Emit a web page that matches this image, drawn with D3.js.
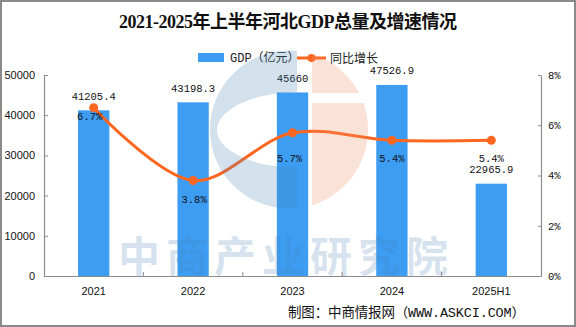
<!DOCTYPE html>
<html><head><meta charset="utf-8">
<script src="https://cdn.jsdelivr.net/npm/d3@7"></script>
<style>body{margin:0;background:#fff}svg{display:block}</style>
</head><body>
<script>
const categories = ["2021","2022","2023","2024","2025H1"];
const gdpValues = [41205.4, 43198.3, 45660, 47526.9, 22965.9];
const growthValues = [6.7, 3.8, 5.7, 5.4, 5.4];
const gdpLabels = ["41205.4","43198.3","45660","47526.9","22965.9"];
const growthLabels = ["6.7%","3.8%","5.7%","5.4%","5.4%"];
const leftTicks = [0, 10000, 20000, 30000, 40000, 50000];
const rightTicks = [0, 2, 4, 6, 8];
const titleText = "2021-2025年上半年河北GDP总量及增速情况";
const legendBar = "GDP（亿元）";
const legendLine = "同比增长";
const sourceText = "制图：中商情报网（WWW.ASKCI.COM）";
const watermarkText = "中商产业研究院";

const W = 576, H = 327;
const BLUE = "#3d9df2", ORANGE = "#ff6620", AXIS = "#8c8c8c";
const CJK = "'Noto Sans CJK SC', 'Noto Sans', sans-serif";
const MONO = "'Liberation Mono', 'DejaVu Sans Mono', monospace";

const svg = d3.select("body").append("svg").attr("width", W).attr("height", H);
svg.append("rect").attr("width", W).attr("height", H).attr("fill", "#fff");

const x = d3.scaleBand().domain(categories).range([44, 541]);
const yL = d3.scaleLinear().domain([0, 50000]).range([276, 75]);
const yR = d3.scaleLinear().domain([0, 8]).range([276, 75]);

// title
svg.append("text").attr("x", 119).attr("y", 28)
  .attr("font-family", "'Liberation Serif', " + CJK).attr("font-weight", "bold")
  .attr("font-size", 18).attr("fill", "#111")
  .attr("textLength", 338).attr("lengthAdjust", "spacing").text(titleText);

// legend
const lg = svg.append("g");
lg.append("rect").attr("x", 198).attr("y", 53).attr("width", 26).attr("height", 9).attr("fill", BLUE);
lg.append("text").attr("x", 230).attr("y", 62).attr("font-family", MONO + ", " + CJK).attr("font-size", 12).attr("fill", "#222").text(legendBar);
lg.append("line").attr("x1", 297).attr("x2", 326).attr("y1", 58).attr("y2", 58).attr("stroke", ORANGE).attr("stroke-width", 3);
lg.append("circle").attr("cx", 311.5).attr("cy", 58).attr("r", 4).attr("fill", ORANGE);
lg.append("text").attr("x", 330).attr("y", 63).attr("font-family", CJK).attr("font-size", 12).attr("fill", "#222").text(legendLine);

// axes
const axL = svg.append("g").attr("transform", "translate(44,0)")
  .call(d3.axisLeft(yL).tickValues(leftTicks).tickSizeInner(-4).tickSizeOuter(0).tickPadding(9).tickFormat(d3.format("d")));
const axR = svg.append("g").attr("transform", "translate(541,0)")
  .call(d3.axisRight(yR).tickValues(rightTicks).tickSizeInner(-3).tickSizeOuter(0).tickPadding(7).tickFormat(d => d + "%"));
const axB = svg.append("g").attr("transform", "translate(0,276)")
  .call(d3.axisBottom(x).tickSizeInner(0).tickSizeOuter(0).tickPadding(11));
[axL, axR, axB].forEach(a => {
  a.select(".domain").attr("stroke", AXIS).attr("stroke-width", 1.2);
  a.selectAll(".tick line").attr("stroke", AXIS);
  a.selectAll("text").attr("fill", "#111").attr("font-size", 11).attr("font-family", "'Liberation Sans', Arial, sans-serif");
});
axR.selectAll("text").attr("font-family", MONO).attr("font-size", 10.5);
axB.selectAll("text").attr("font-size", 11);
// category boundary ticks
svg.append("g").selectAll("line").data(categories.slice(1)).join("line")
  .attr("x1", d => x(d)).attr("x2", d => x(d)).attr("y1", 276).attr("y2", 272)
  .attr("stroke", AXIS).attr("stroke-width", 1);

// bars
const bw = x.bandwidth() * 0.315;
svg.append("g").selectAll("rect").data(gdpValues).join("rect")
  .attr("x", (d, i) => x(categories[i]) + x.bandwidth() / 2 - bw / 2)
  .attr("y", d => yL(d)).attr("width", bw).attr("height", d => yL(0) - yL(d))
  .attr("fill", BLUE);

// bar labels
svg.append("g").selectAll("text").data(gdpValues).join("text")
  .attr("x", (d, i) => x(categories[i]) + x.bandwidth() / 2)
  .attr("y", d => yL(d) - 10.5).attr("text-anchor", "middle")
  .attr("font-family", MONO).attr("font-size", 10.5).attr("fill", "#111")
  .text((d, i) => gdpLabels[i]);

// line
const pts = growthValues.map((v, i) => [x(categories[i]) + x.bandwidth() / 2, yR(v)]);
svg.append("path").attr("d", d3.line().curve(d3.curveCatmullRom.alpha(0.5))(pts))
  .attr("fill", "none").attr("stroke", ORANGE).attr("stroke-width", 3);
svg.append("g").selectAll("circle").data(pts).join("circle")
  .attr("cx", d => d[0]).attr("cy", d => d[1]).attr("r", 4.5).attr("fill", ORANGE);

// growth labels
const pDy = [12.7, 22, 29, 21.7, 21.7];
const pDx = [-4, 1, -3, 0, 0];
svg.append("g").selectAll("text").data(growthValues).join("text")
  .attr("x", (d, i) => pts[i][0] + pDx[i]).attr("y", (d, i) => pts[i][1] + pDy[i])
  .attr("text-anchor", "middle").attr("font-family", MONO).attr("font-size", 10.5).attr("fill", "#111")
  .text((d, i) => growthLabels[i]);

// watermark (semi-transparent, on top)
const wm = svg.append("g");
const defs = svg.append("defs");
const cx = 289, cy = 129.5, r = 79;
defs.append("clipPath").attr("id", "cl").append("rect").attr("x", 0).attr("y", 0).attr("width", 297).attr("height", H);
defs.append("clipPath").attr("id", "cr").append("rect").attr("x", 312).attr("y", 0).attr("width", 300).attr("height", H);
const m1 = defs.append("mask").attr("id", "mb");
m1.append("rect").attr("width", W).attr("height", H).attr("fill", "#fff");
m1.append("ellipse").attr("cx", 300).attr("cy", 130).attr("rx", 83).attr("ry", 38).attr("fill", "#000");
const m2 = defs.append("mask").attr("id", "mo");
m2.append("rect").attr("width", W).attr("height", H).attr("fill", "#fff");
m2.append("rect").attr("x", 300).attr("y", 93).attr("width", 100).attr("height", 10).attr("fill", "#000");
wm.append("g").attr("clip-path", "url(#cl)").append("circle").attr("cx", cx).attr("cy", cy).attr("r", r)
  .attr("fill", "#4682b4").attr("fill-opacity", 0.24).attr("mask", "url(#mb)");
wm.append("g").attr("clip-path", "url(#cr)").append("circle").attr("cx", cx).attr("cy", cy).attr("r", r)
  .attr("fill", "#f08a60").attr("fill-opacity", 0.25).attr("mask", "url(#mo)");
wm.append("text").attr("x", 118).attr("y", 272).attr("font-family", CJK).attr("font-weight", "bold")
  .attr("font-size", 42).attr("letter-spacing", 6).attr("fill", "#4682b4").attr("fill-opacity", 0.22)
  .text(watermarkText);

// source
svg.append("text").attr("x", 288).attr("y", 317)
  .attr("font-family", MONO + ", " + CJK).attr("font-size", 13.5).attr("fill", "#111")
  .attr("textLength", 237).attr("lengthAdjust", "spacing").text(sourceText);

// frame
svg.append("rect").attr("x", 1).attr("y", 1).attr("width", W - 2).attr("height", H - 2)
  .attr("fill", "none").attr("stroke", "#8a8a8a").attr("stroke-width", 2);
</script>
</body></html>
